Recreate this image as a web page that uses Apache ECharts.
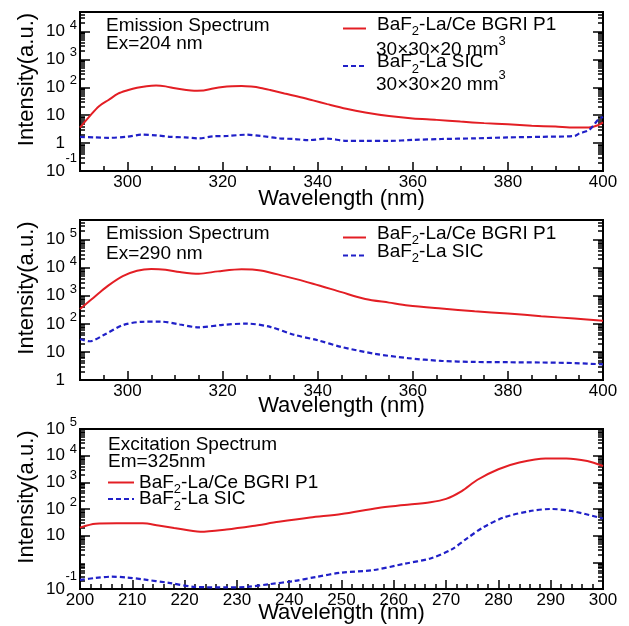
<!DOCTYPE html>
<html>
<head>
<meta charset="utf-8">
<script src="https://cdn.jsdelivr.net/npm/echarts@6/dist/echarts.min.js"></script>
<style>
  html, body { margin: 0; padding: 0; background: #fff; }
  #chart { width: 629px; height: 626px; }
</style>
</head>
<body>
<div id="chart"></div>
<script>
// Emission spectrum, Ex = 204 nm
const em204BgriWl = [290, 292, 294, 296, 298, 300, 302, 304, 306, 308, 310, 312, 314, 316, 318, 320, 322, 324, 326, 328, 330, 333, 336, 339, 342, 346, 350, 355, 360, 365, 370, 375, 380, 385, 390, 394, 397, 399, 400]
const em204Bgri = [3.6, 9.1, 21, 35, 59, 78, 97, 110, 115, 108, 92, 82, 76, 77, 90, 102, 109, 112, 106, 95, 80, 60, 46, 34, 25, 17, 12.5, 9.3, 7.6, 6.8, 5.9, 5.2, 4.7, 4.2, 3.9, 3.6, 3.6, 4.4, 5.5]
const em204SicWl = [290, 293, 296, 300, 303, 306, 309, 312, 315, 318, 321, 325, 328, 332, 335, 338, 342, 346, 350, 355, 360, 366, 373, 380, 387, 394, 395, 397, 398, 399, 400]
const em204Sic = [1.68, 1.6, 1.55, 1.7, 2.0, 1.9, 1.68, 1.6, 1.48, 1.75, 1.8, 2.0, 1.8, 1.48, 1.4, 1.28, 1.45, 1.2, 1.2, 1.2, 1.3, 1.4, 1.48, 1.6, 1.68, 1.8, 2.2, 2.9, 4.3, 7.0, 8.7]

// Emission spectrum, Ex = 290 nm
const em290BgriWl = [290, 292, 294, 296, 299, 302, 305, 308, 311, 315, 319, 324, 328, 333, 339, 345, 350, 355, 359, 366, 373, 380, 387, 394, 400]
const em290Bgri = [340, 650, 1250, 2350, 5000, 7800, 9000, 8500, 7000, 6100, 7400, 8800, 8000, 5000, 2700, 1350, 770, 570, 450, 350, 280, 234, 187, 155, 130]
const em290SicWl = [290, 292, 295, 299, 303, 307, 311, 315, 320, 325, 330, 335, 340, 345, 352, 359, 366, 373, 380, 387, 394, 400]
const em290Sic = [29, 24, 40, 90, 118, 120, 95, 75, 92, 102, 78, 41, 26, 15, 8.6, 6.0, 4.8, 4.4, 4.3, 4.2, 4.0, 3.6]

// Excitation spectrum, Em = 325 nm
const ex325BgriWl = [200, 203, 207, 212, 215, 218, 223, 228, 233, 238, 244, 250, 257, 262, 267, 270, 273, 276, 280, 284, 289, 293, 297, 300]
const ex325Bgri = [20, 28, 29, 29, 24, 19.5, 14, 17, 23, 33, 48, 65, 110, 140, 180, 240, 470, 1250, 3100, 5500, 7900, 7900, 6300, 4100]
const ex325SicWl = [200, 203, 206, 209, 212, 217, 222, 228, 232, 236, 241, 245, 250, 256, 262, 267, 271, 274, 277, 281, 286, 290, 294, 300]
const ex325Sic = [0.22, 0.26, 0.29, 0.27, 0.23, 0.17, 0.12, 0.115, 0.12, 0.15, 0.2, 0.28, 0.41, 0.51, 0.88, 1.4, 3.0, 7.9, 20, 48, 83, 100, 84, 44]

// tick labels
const emXTicks = [300, 320, 340, 360, 380, 400]
const exXTicks = [200, 210, 220, 230, 240, 250, 260, 270, 280, 290, 300]
const em204YTicks = [0.1, 1, 10, 100, 1000, 10000]
const em290YTicks = [1, 10, 100, 1000, 10000, 100000]
const ex325YTicks = [0.1, 1, 10, 100, 1000, 10000, 100000]

const FONT = 'Liberation Sans, Arial, Helvetica, sans-serif'
const RED = '#e31e24'
const BLUE = '#2020c8'

const panels = [
  { top: 12, height: 159, xMin: 290, xMax: 400, xStep: 5, xTicks: emXTicks, yMin: 0.1, yMax: 50000, yTicks: em204YTicks, nameGap: 17 },
  { top: 220, height: 160, xMin: 290, xMax: 400, xStep: 5, xTicks: emXTicks, yMin: 1, yMax: 500000, yTicks: em290YTicks, nameGap: 15 },
  { top: 429, height: 160, xMin: 200, xMax: 300, xStep: 2, xTicks: exXTicks, yMin: 0.1, yMax: 100000, yTicks: ex325YTicks, nameGap: 13 },
]

function linearMinor(min, max, step, majors) {
  const out = []
  for (let v = min + step; v < max; v += step) {
    if (!majors.includes(v)) out.push(v)
  }
  return out
}

function logMinor(min, max) {
  const out = []
  for (let e = Math.floor(Math.log10(min)); e <= Math.ceil(Math.log10(max)); e++) {
    for (let k = 2; k <= 9; k++) {
      const v = k * Math.pow(10, e)
      if (v > min && v < max) out.push(v)
    }
  }
  return out
}

function powLabel(v) {
  const e = Math.round(Math.log10(v))
  if (e === 0) return '{b|1}{w| }'
  if (e === 1) return '{b|10}{w| }'
  if (e < 0) return '{b|10}{n|' + e + '}'
  return '{b|10}{s|' + e + '}'
}

const tickLine = { color: '#000', width: 1.5 }
const grid = []
const xAxis = []
const yAxis = []

panels.forEach((p, i) => {
  // main grid with frame, overlay grid for minor ticks
  grid.push({ left: 80, right: 26, top: p.top, height: p.height, show: true, borderColor: '#000', borderWidth: 2, backgroundColor: 'transparent' })
  grid.push({ left: 80, right: 26, top: p.top, height: p.height, show: false })
  const g = i * 2
  xAxis.push({
    gridIndex: g, type: 'value', min: p.xMin, max: p.xMax,
    axisLine: { show: false }, splitLine: { show: false },
    axisTick: { inside: true, length: 9, customValues: p.xTicks, lineStyle: tickLine },
    axisLabel: { customValues: p.xTicks, margin: 3, color: '#000', fontSize: 17, fontFamily: FONT, showMinLabel: true, showMaxLabel: true },
    name: 'Wavelength (nm)', nameLocation: 'middle', nameGap: p.nameGap, nameMoveOverlap: false,
    nameTextStyle: { color: '#000', fontSize: 22, fontFamily: FONT },
  })
  xAxis.push({
    gridIndex: g + 1, type: 'value', min: p.xMin, max: p.xMax,
    axisLine: { show: false }, splitLine: { show: false }, axisLabel: { show: false },
    axisTick: { inside: true, length: 5, customValues: linearMinor(p.xMin, p.xMax, p.xStep, p.xTicks), lineStyle: tickLine },
  })
  const yBase = { type: 'log', logBase: 10, min: p.yMin, max: p.yMax, axisLine: { show: false }, splitLine: { show: false } }
  yAxis.push({
    ...yBase, gridIndex: g, position: 'left',
    axisTick: { inside: true, length: 10, customValues: p.yTicks, lineStyle: tickLine },
    axisLabel: {
      customValues: p.yTicks, margin: 3, formatter: powLabel, showMinLabel: true, showMaxLabel: true, hideOverlap: false,
      rich: {
        b: { fontSize: 17, fontFamily: FONT, color: '#000' },
        w: { fontSize: 13, fontFamily: FONT, width: 12 },
        s: { fontSize: 13, fontFamily: FONT, color: '#000', width: 12, align: 'right', padding: [0, 0, 13, 0] },
        n: { fontSize: 13, fontFamily: FONT, color: '#000', width: 12, align: 'right', padding: [0, 0, 25, 0] },
      },
    },
    name: 'Intensity(a.u.)', nameLocation: 'middle', nameGap: 42, nameMoveOverlap: false,
    nameTextStyle: { color: '#000', fontSize: 22, fontFamily: FONT, padding: [0, 0, 0, 24] },
  })
  yAxis.push({
    ...yBase, gridIndex: g, position: 'right', axisLabel: { show: false },
    axisTick: { inside: true, length: 10, customValues: p.yTicks, lineStyle: tickLine },
  })
  const minorY = logMinor(p.yMin, p.yMax)
  yAxis.push({
    ...yBase, gridIndex: g + 1, position: 'left', axisLabel: { show: false },
    axisTick: { inside: true, length: 5, customValues: minorY, lineStyle: tickLine },
  })
  yAxis.push({
    ...yBase, gridIndex: g + 1, position: 'right', axisLabel: { show: false },
    axisTick: { inside: true, length: 5, customValues: minorY, lineStyle: tickLine },
  })
})

function zip(xs, ys) {
  return xs.map((x, k) => [x, ys[k]])
}

function lineSeries(name, panel, xs, ys, dashed) {
  return {
    name, type: 'line', xAxisIndex: panel * 2, yAxisIndex: panel * 4,
    data: zip(xs, ys), symbol: 'none', smooth: 0.3,
    color: dashed ? BLUE : RED,
    lineStyle: { width: dashed ? 2.2 : 2, type: dashed ? [5, 3] : 'solid', color: dashed ? BLUE : RED },
  }
}

const series = [
  lineSeries('em204-bgri', 0, em204BgriWl, em204Bgri, false),
  lineSeries('em204-sic', 0, em204SicWl, em204Sic, true),
  lineSeries('em290-bgri', 1, em290BgriWl, em290Bgri, false),
  lineSeries('em290-sic', 1, em290SicWl, em290Sic, true),
  lineSeries('ex325-bgri', 2, ex325BgriWl, ex325Bgri, false),
  lineSeries('ex325-sic', 2, ex325SicWl, ex325Sic, true),
]

const LEGEND_TEXT = {
  bgri: '{t|BaF}{sub|2}{t|-La/Ce BGRI P1}',
  sic: '{t|BaF}{sub|2}{t|-La SIC}',
}
const legendLabel = (name) => LEGEND_TEXT[name.split('-')[1]]

// text sits a little above the line sample in the emission panels
const richRaised = {
  t: { fontSize: 19, fontFamily: FONT, color: '#000', padding: [0, 0, 8, 0] },
  sub: { fontSize: 13, fontFamily: FONT, color: '#000', padding: [6, 0, 0, 0] },
}
const richLevel = {
  t: { fontSize: 19, fontFamily: FONT, color: '#000' },
  sub: { fontSize: 13, fontFamily: FONT, color: '#000', padding: [14, 0, 0, 0] },
}
const legendBase = { orient: 'vertical', padding: 0, itemHeight: 10, selectedMode: false, itemStyle: { opacity: 0 }, formatter: legendLabel }

const legend = [
  { ...legendBase, left: 342, top: 15, itemWidth: 23, itemGap: 14.5,
    data: ['em204-bgri', 'em204-sic'], textStyle: { padding: [0, 0, 0, 6], rich: richRaised } },
  { ...legendBase, left: 342, top: 224, itemWidth: 23, itemGap: -5,
    data: ['em290-bgri', 'em290-sic'], textStyle: { padding: [0, 0, 0, 6], rich: richRaised } },
  { ...legendBase, left: 107, top: 473, itemWidth: 26, itemGap: -6.5,
    data: ['ex325-bgri', 'ex325-sic'], textStyle: { rich: richLevel } },
]

const sizeRich = {
  t: { fontSize: 19, fontFamily: FONT, fill: '#000' },
  sup: { fontSize: 13, fontFamily: FONT, fill: '#000', padding: [0, 0, 18, 0] },
}

function note(left, top, text, lineHeight) {
  return { type: 'text', left, top, style: { text, fontSize: 19, fontFamily: FONT, fill: '#000', lineHeight } }
}

const graphic = [
  note(106, 16, 'Emission Spectrum\nEx=204 nm', 18),
  note(106, 223.3, 'Emission Spectrum\nEx=290 nm', 20),
  note(108, 435, 'Excitation Spectrum\nEm=325nm', 17),
  { type: 'text', left: 376, top: 34.5, style: { text: '{t|30×30×20 mm}{sup|3}', rich: sizeRich } },
  { type: 'text', left: 376, top: 69, style: { text: '{t|30×30×20 mm}{sup|3}', rich: sizeRich } },
]

const chart = echarts.init(document.getElementById('chart'))
chart.setOption({
  animation: false,
  backgroundColor: '#fff',
  grid, xAxis, yAxis, series, legend, graphic,
})
</script>
</body>
</html>
